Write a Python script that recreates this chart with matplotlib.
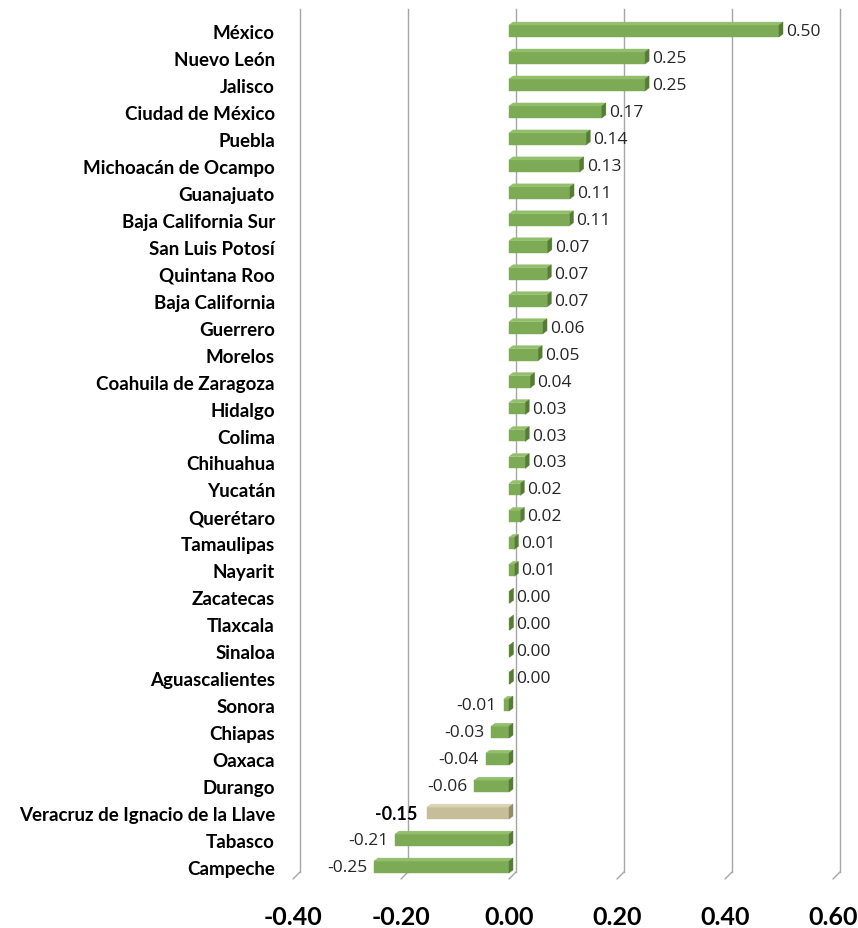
import matplotlib
matplotlib.use("Agg")
import matplotlib.pyplot as plt
import matplotlib.transforms as mtransforms
from matplotlib.patches import Polygon

estados = [
    "México", "Nuevo León", "Jalisco", "Ciudad de México", "Puebla",
    "Michoacán de Ocampo", "Guanajuato", "Baja California Sur",
    "San Luis Potosí", "Quintana Roo", "Baja California", "Guerrero",
    "Morelos", "Coahuila de Zaragoza", "Hidalgo", "Colima", "Chihuahua",
    "Yucatán", "Querétaro", "Tamaulipas", "Nayarit", "Zacatecas",
    "Tlaxcala", "Sinaloa", "Aguascalientes", "Sonora", "Chiapas", "Oaxaca",
    "Durango", "Veracruz de Ignacio de la Llave", "Tabasco", "Campeche",
]
valores = [
    0.50, 0.252, 0.252, 0.172, 0.143, 0.131, 0.113, 0.112,
    0.072, 0.071, 0.071, 0.063, 0.054, 0.040, 0.030, 0.030, 0.030,
    0.021, 0.021, 0.010, 0.010, 0.001,
    0.001, 0.001, 0.001, -0.010, -0.033, -0.043,
    -0.064, -0.152, -0.211, -0.250,
]
etiquetas = [
    "0.50", "0.25", "0.25", "0.17", "0.14", "0.13", "0.11", "0.11",
    "0.07", "0.07", "0.07", "0.06", "0.05", "0.04", "0.03", "0.03", "0.03",
    "0.02", "0.02", "0.01", "0.01", "0.00",
    "0.00", "0.00", "0.00", "-0.01", "-0.03", "-0.04",
    "-0.06", "-0.15", "-0.21", "-0.25",
]
destacado = "Veracruz de Ignacio de la Llave"
xticks = [-0.40, -0.20, 0.00, 0.20, 0.40, 0.60]

GREEN = "#7caa55"
GREEN_TOP = "#93be6c"
GREEN_SIDE = "#557c33"
TAN = "#c6be98"
TAN_TOP = "#d8d2b2"
TAN_SIDE = "#948c66"
GRID = "#a6a6a6"

W, H = 858, 929
fig = plt.figure(figsize=(W / 100, H / 100), dpi=100)
ax = fig.add_axes([293 / W, (H - 880) / H, 540 / W, (880 - 17) / H])

n = len(estados)
ax.set_xlim(-0.40, 0.60)
ax.set_ylim(31.445, -0.556)

# depth of the 3D effect, in pixels -> data units
px_x = 1.0 / 540
px_y = (31.445 + 0.556) / (880 - 17)
dx, dy = 4 * px_x, 3 * px_y
h = 0.22

# back-wall gridlines with the little floor diagonal
back = mtransforms.offset_copy(ax.get_xaxis_transform(), fig=fig, x=7, y=7, units="dots")
for t in xticks:
    ax.plot([t, t], [0, 1], color=GRID, lw=1.0, transform=back, clip_on=False, zorder=1)
    ax.annotate("", xy=(t, 0), xycoords=ax.get_xaxis_transform(),
                xytext=(7, 7), textcoords="offset pixels",
                arrowprops=dict(arrowstyle="-", color=GRID, lw=1.0,
                                shrinkA=0, shrinkB=0), annotation_clip=False)

for i, (name, v, lab) in enumerate(zip(estados, valores, etiquetas)):
    face, top, side = (TAN, TAN_TOP, TAN_SIDE) if name == destacado else (GREEN, GREEN_TOP, GREEN_SIDE)
    a, b = min(0, v), max(0, v)
    ax.barh(i, b - a, left=a, height=2 * h, color=face, edgecolor=face, lw=0.3, zorder=3)
    ax.add_patch(Polygon([(a, i - h), (b, i - h), (b + dx, i - h - dy), (a + dx, i - h - dy)],
                         closed=True, facecolor=top, edgecolor=top, lw=0.3, zorder=3))
    ax.add_patch(Polygon([(b, i + h), (b, i - h), (b + dx, i - h - dy), (b + dx, i + h - dy)],
                         closed=True, facecolor=side, edgecolor=side, lw=0.3, zorder=3))
    if name == destacado:
        ax.text(a - 10 * px_x, i, lab, ha="right", va="center", fontsize=13,
                fontweight="bold", family="Lato", color="black")
    elif v < 0:
        ax.text(a - 7 * px_x, i, lab, ha="right", va="center", fontsize=12.5,
                family="Open Sans", color="#262626")
    else:
        ax.text(b + dx + 3 * px_x, i, lab, ha="left", va="center", fontsize=12.5,
                family="Open Sans", color="#262626")

ax.set_yticks(range(n))
ax.set_yticklabels(estados, fontsize=13.5, fontweight="bold", family="Lato")
ax.tick_params(axis="y", length=0, pad=13)
ax.set_xticks(xticks)
ax.set_xticklabels([f"{t:.2f}" for t in xticks], fontsize=18, fontweight="bold", family="Lato")
ax.tick_params(axis="x", length=0, pad=19)
for s in ax.spines.values():
    s.set_visible(False)

fig.savefig("out.png", dpi=100)
